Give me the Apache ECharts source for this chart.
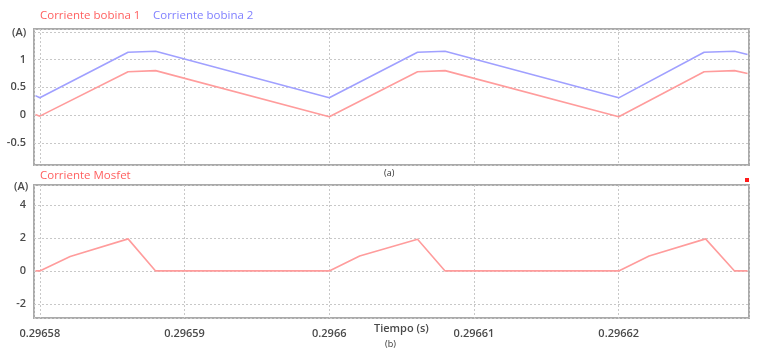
<!DOCTYPE html>
<html>
<head>
<meta charset="utf-8">
<script src="https://cdn.jsdelivr.net/npm/echarts@6/dist/echarts.min.js"></script>
<style>html,body{margin:0;padding:0;background:#fff}#c{width:765px;height:363px}</style>
</head>
<body>
<div id="c"></div>
<script>
// Data
const timeCoil = [0.2965797, 0.29658, 0.2965861, 0.2965880, 0.29660, 0.2966061, 0.2966080, 0.29662, 0.2966259, 0.2966280, 0.2966289];
const coil1 = [0.01, -0.02, 0.78, 0.80, -0.03, 0.78, 0.80, -0.03, 0.78, 0.80, 0.75];
const coil2 = [0.35, 0.31, 1.13, 1.15, 0.31, 1.13, 1.15, 0.31, 1.13, 1.15, 1.09];
const timeMos = [0.2965797, 0.29658, 0.2965821, 0.2965861, 0.2965880, 0.29660, 0.2966021, 0.2966061, 0.2966080, 0.29662, 0.2966221, 0.2966260, 0.2966280, 0.2966289];
const mosfet = [0, 0, 0.87, 1.94, 0, 0, 0.90, 1.92, 0, 0, 0.90, 1.94, 0, 0];
const xMin = 0.2965796, xMax = 0.2966290;
const yTop = [-0.9, 1.55], yBot = [-2.85, 5.2];
const seriesNames = ['Corriente bobina 1', 'Corriente bobina 2', 'Corriente Mosfet'];

const zip = (a, b) => a.map((t, i) => [t, b[i]]);
const font = '"Open Sans", sans-serif';
const lblStyle = {color: '#4a4a4a', fontFamily: font, fontSize: 11, fontWeight: 600};
const split = {show: true, lineStyle: {color: '#c8c8c8', type: [2, 2], width: 1}};
const fmtStep = step => v => {
  const r = v / step;
  if (Math.abs(r - Math.round(r)) > 1e-6) return '';
  return String(Number(v.toFixed(6)));
};

const chart = echarts.init(document.getElementById('c'));
chart.setOption({
  animation: false,
  backgroundColor: '#fff',
  grid: [
    {left: 34, right: 16, top: 29, height: 136, show: true, borderColor: '#aaaaaa', borderWidth: 2, containLabel: false},
    {left: 34, right: 16, top: 185, height: 133, show: true, borderColor: '#aaaaaa', borderWidth: 2, containLabel: false}
  ],
  xAxis: [
    {type: 'value', gridIndex: 0, min: xMin, max: xMax, axisLine: {show: false}, axisTick: {show: false}, axisLabel: {show: false}, splitLine: split},
    {type: 'value', gridIndex: 1, min: xMin, max: xMax, axisLine: {show: false}, axisTick: {show: false}, splitLine: split,
     axisLabel: Object.assign({margin: 10, showMinLabel: false, showMaxLabel: false, formatter: v => {
       const r = v / 1e-5; if (Math.abs(r - Math.round(r)) > 1e-4) return '';
       return String(Number(v.toFixed(5)));
     }}, lblStyle)}
  ],
  yAxis: [
    {type: 'value', gridIndex: 0, min: yTop[0], max: yTop[1], axisLine: {show: false}, axisTick: {show: false}, splitLine: split,
     axisLabel: Object.assign({margin: 8, showMinLabel: false, showMaxLabel: false, formatter: v => (Math.abs(v - 1.5) < 1e-6 ? '' : fmtStep(0.5)(v))}, lblStyle)},
    {type: 'value', gridIndex: 1, min: yBot[0], max: yBot[1], axisLine: {show: false}, axisTick: {show: false}, splitLine: split,
     axisLabel: Object.assign({margin: 8, showMinLabel: false, showMaxLabel: false, formatter: fmtStep(2)}, lblStyle)}
  ],
  title: [
    {text: seriesNames[0], left: 35, top: 5, textStyle: {color: '#ff5f5f', fontFamily: font, fontSize: 11.5, fontWeight: 'normal'}},
    {text: seriesNames[1], left: 148, top: 5, textStyle: {color: '#8080ff', fontFamily: font, fontSize: 11.5, fontWeight: 'normal'}},
    {text: seriesNames[2], left: 35, top: 165, textStyle: {color: '#ff5f5f', fontFamily: font, fontSize: 11.5, fontWeight: 'normal'}}
  ],
  graphic: [
    {type: 'text', left: 12, top: 27, style: {text: '(A)', fill: '#4a4a4a', font: '600 11px "Open Sans"'}},
    {type: 'text', left: 14, top: 181, style: {text: '(A)', fill: '#4a4a4a', font: '600 11px "Open Sans"'}},
    {type: 'text', left: 384, top: 169, style: {text: '(a)', fill: '#333', font: '9px "Open Sans"'}},
    {type: 'text', left: 385, top: 340, style: {text: '(b)', fill: '#333', font: '9px "Open Sans"'}},
    {type: 'text', left: 374, top: 323, style: {text: 'Tiempo (s)', fill: '#4a4a4a', font: '600 11px "Open Sans"'}},
    {type: 'rect', left: 745, top: 178, shape: {width: 4, height: 4}, style: {fill: '#ff1a1a'}}
  ],
  series: [
    {name: seriesNames[0], type: 'line', xAxisIndex: 0, yAxisIndex: 0, data: zip(timeCoil, coil1), showSymbol: false, lineStyle: {color: '#ff9c9c', width: 1.6}, itemStyle: {color: '#ff9c9c'}},
    {name: seriesNames[1], type: 'line', xAxisIndex: 0, yAxisIndex: 0, data: zip(timeCoil, coil2), showSymbol: false, lineStyle: {color: '#a0a0ff', width: 1.6}, itemStyle: {color: '#a0a0ff'}},
    {name: seriesNames[2], type: 'line', xAxisIndex: 1, yAxisIndex: 1, data: zip(timeMos, mosfet), showSymbol: false, lineStyle: {color: '#ff9c9c', width: 1.6}, itemStyle: {color: '#ff9c9c'}}
  ]
});
</script>
</body>
</html>
